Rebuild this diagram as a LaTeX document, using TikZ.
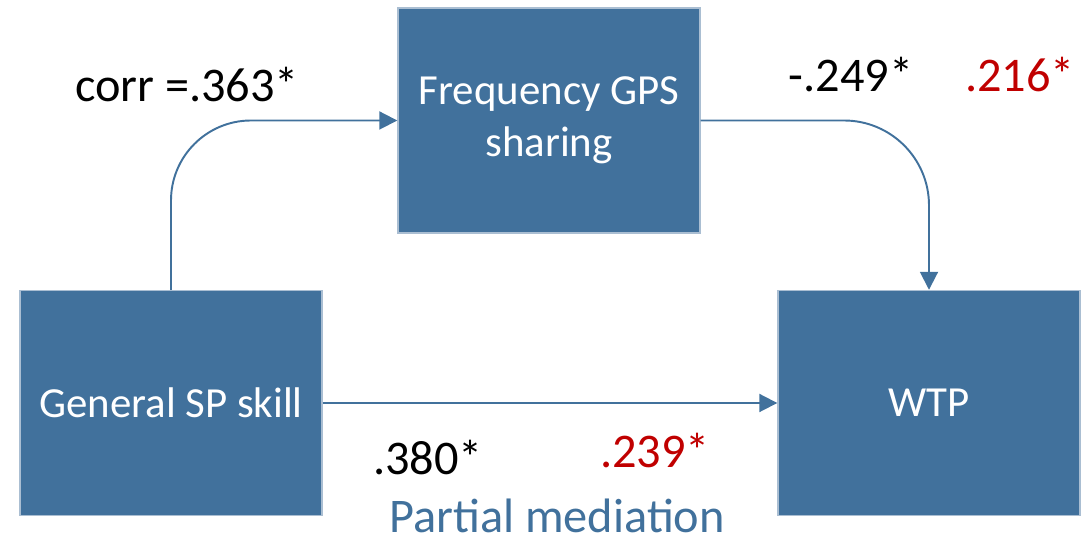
\documentclass[tikz,border=0pt]{standalone}
\usepackage{fontspec}
\setmainfont{Carlito}
\usetikzlibrary{arrows.meta}
\definecolor{boxblue}{RGB}{65,113,156}
\definecolor{boxline}{RGB}{170,190,210}
\definecolor{coefred}{RGB}{192,0,0}

\begin{document}
\begin{tikzpicture}[
  varbox/.style={draw=boxline, line width=0.8pt, fill=boxblue, text=white,
    minimum width=6.04cm, minimum height=4.5cm, align=center,
    font=\fontsize{24.4}{29.5}\selectfont},
  coef/.style={font=\fontsize{27.5}{31}\selectfont},
  path/.style={draw=boxblue, line width=1.1pt,
    -{Triangle[length=0.36cm, width=0.36cm]}}
]
\useasboundingbox (0,0) rectangle (21.74,10.92);
% variables
\node[varbox] (freq) at (10.98,8.51) {Frequency GPS\\sharing};
\node[varbox] (skill) at (3.42,2.86) {General SP skill};
\node[varbox] (wtp) at (18.58,2.86) {WTP};
% paths
\draw[path, rounded corners=1.6cm] (skill.north) |- (freq.west);
\draw[path, rounded corners=1.7cm] (freq.east) -| (wtp.north);
\draw[path] (skill.east) -- (wtp.west);
% coefficients
\node[coef] (corr) at (3.74,9.22) {corr =.363*};
\node[coef] (bfreq) at (17.02,9.42) {-.249*};
\node[coef, text=coefred] (bfreqm) at (20.40,9.42) {.216*};
\node[coef] (bskill) at (8.56,1.76) {.380*};
\node[coef, text=coefred] (bskillm) at (13.10,1.90) {.239*};
\node[coef, text=boxblue, inner sep=0pt] (note) at (11.14,0.60) {Partial mediation};
\end{tikzpicture}
\end{document}
